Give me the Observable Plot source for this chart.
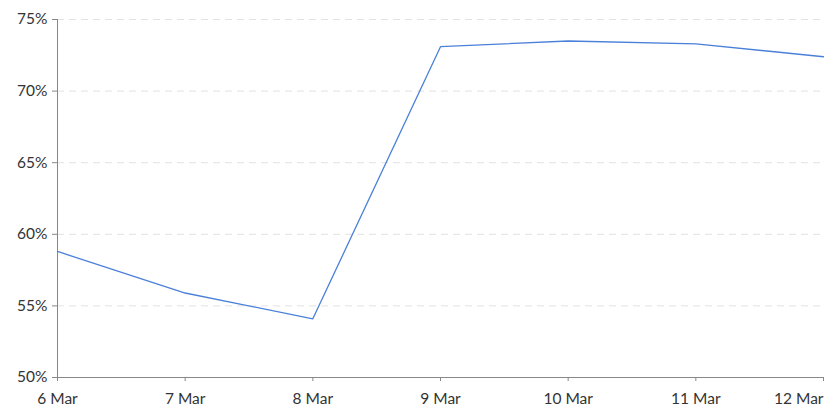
<!DOCTYPE html>
<html>
<head>
<meta charset="utf-8">
<script src="https://cdn.jsdelivr.net/npm/d3@7"></script>
<script src="https://cdn.jsdelivr.net/npm/@observablehq/plot@0.6"></script>
<style>
  html, body { margin: 0; padding: 0; background: #fff; }
  #chart { width: 840px; height: 409px; }
</style>
</head>
<body>
<div id="chart"></div>
<script>
const dates = ["2023-03-06", "2023-03-07", "2023-03-08", "2023-03-09", "2023-03-10", "2023-03-11", "2023-03-12"];
const values = [58.8, 55.9, 54.1, 73.1, 73.5, 73.3, 72.4];
const yTicks = [50, 55, 60, 65, 70, 75];

const data = dates.map((d, i) => ({date: new Date(d + "T00:00:00Z"), value: values[i]}));
const xTicks = data.map(d => d.date);
const fmt = d3.utcFormat("%-d %b");
const lastTick = xTicks[xTicks.length - 1];

const chart = Plot.plot({
  width: 840,
  height: 409,
  marginLeft: 57,
  marginRight: 17,
  marginTop: 19,
  marginBottom: 32,
  style: {fontFamily: "Lato, 'Open Sans', sans-serif", fontSize: "15.5px", color: "#333", background: "#fff"},
  x: {type: "utc", domain: [xTicks[0], lastTick]},
  y: {domain: [50, 75]},
  marks: [
    Plot.ruleY(yTicks.filter(v => v > 50), {stroke: "#e2e2e2", strokeDasharray: "7,5", strokeWidth: 1}),
    Plot.axisY({ticks: yTicks, tickFormat: d => d + "%", tickSize: 5, tickPadding: 5, stroke: "#888", fill: "#333", label: null}),
    Plot.ruleX([xTicks[0]], {stroke: "#888"}),
    Plot.ruleY([50], {stroke: "#888"}),
    Plot.axisX({ticks: xTicks.slice(0, -1), tickFormat: fmt, tickSize: 4, tickPadding: 11, stroke: "#888", fill: "#333", label: null}),
    Plot.axisX({ticks: [lastTick], tickFormat: fmt, tickSize: 4, tickPadding: 11, stroke: "#888", fill: "#333", label: null, textAnchor: "end"}),
    Plot.line(data, {x: "date", y: "value", stroke: "#4a80d9", strokeWidth: 1.3})
  ]
});
document.getElementById("chart").appendChild(chart);
</script>
</body>
</html>
